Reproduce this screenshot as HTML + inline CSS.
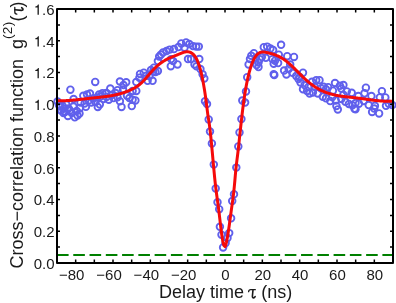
<!DOCTYPE html>
<html><head><meta charset="utf-8"><style>
html,body{margin:0;padding:0;background:#fff;}
svg{display:block;filter:blur(0.35px);}
text{font-family:"Liberation Sans",sans-serif;fill:#1a1a1a;}
</style></head><body>
<svg width="396" height="303" viewBox="0 0 396 303">
<rect width="396" height="303" fill="#fff"/>
<g fill="none" stroke="#6060ec" stroke-width="1.85"><circle cx="57.50" cy="101.50" r="3.3"/><circle cx="58.90" cy="105.00" r="3.3"/><circle cx="60.00" cy="106.50" r="3.3"/><circle cx="61.00" cy="110.40" r="3.3"/><circle cx="62.60" cy="106.00" r="3.3"/><circle cx="63.50" cy="113.00" r="3.3"/><circle cx="64.50" cy="108.50" r="3.3"/><circle cx="65.00" cy="112.00" r="3.3"/><circle cx="66.30" cy="104.50" r="3.3"/><circle cx="67.90" cy="116.00" r="3.3"/><circle cx="68.60" cy="108.50" r="3.3"/><circle cx="70.00" cy="110.50" r="3.3"/><circle cx="70.40" cy="89.70" r="3.3"/><circle cx="71.70" cy="112.90" r="3.3"/><circle cx="73.40" cy="106.60" r="3.3"/><circle cx="73.60" cy="99.00" r="3.3"/><circle cx="74.80" cy="117.30" r="3.3"/><circle cx="76.70" cy="111.00" r="3.3"/><circle cx="77.50" cy="115.50" r="3.3"/><circle cx="79.50" cy="113.50" r="3.3"/><circle cx="79.90" cy="107.90" r="3.3"/><circle cx="80.50" cy="102.50" r="3.3"/><circle cx="83.30" cy="95.80" r="3.3"/><circle cx="84.60" cy="103.50" r="3.3"/><circle cx="85.90" cy="106.80" r="3.3"/><circle cx="87.00" cy="94.50" r="3.3"/><circle cx="88.70" cy="100.50" r="3.3"/><circle cx="90.00" cy="93.50" r="3.3"/><circle cx="91.20" cy="102.40" r="3.3"/><circle cx="93.00" cy="98.50" r="3.3"/><circle cx="95.20" cy="81.90" r="3.3"/><circle cx="95.50" cy="102.00" r="3.3"/><circle cx="97.00" cy="97.50" r="3.3"/><circle cx="97.80" cy="107.00" r="3.3"/><circle cx="99.10" cy="94.50" r="3.3"/><circle cx="99.80" cy="104.40" r="3.3"/><circle cx="100.50" cy="96.50" r="3.3"/><circle cx="102.40" cy="93.20" r="3.3"/><circle cx="103.50" cy="99.00" r="3.3"/><circle cx="105.60" cy="93.40" r="3.3"/><circle cx="106.50" cy="93.00" r="3.3"/><circle cx="106.50" cy="97.00" r="3.3"/><circle cx="108.80" cy="99.70" r="3.3"/><circle cx="110.30" cy="88.60" r="3.3"/><circle cx="111.50" cy="95.00" r="3.3"/><circle cx="113.50" cy="98.10" r="3.3"/><circle cx="115.50" cy="93.00" r="3.3"/><circle cx="117.50" cy="90.20" r="3.3"/><circle cx="117.50" cy="97.30" r="3.3"/><circle cx="119.90" cy="81.50" r="3.3"/><circle cx="119.90" cy="101.30" r="3.3"/><circle cx="121.50" cy="106.90" r="3.3"/><circle cx="123.00" cy="89.40" r="3.3"/><circle cx="123.50" cy="85.00" r="3.3"/><circle cx="126.20" cy="82.30" r="3.3"/><circle cx="127.00" cy="95.70" r="3.3"/><circle cx="129.40" cy="98.10" r="3.3"/><circle cx="131.80" cy="106.10" r="3.3"/><circle cx="132.60" cy="91.00" r="3.3"/><circle cx="132.60" cy="99.70" r="3.3"/><circle cx="135.40" cy="100.40" r="3.3"/><circle cx="136.30" cy="82.10" r="3.3"/><circle cx="136.30" cy="90.90" r="3.3"/><circle cx="139.40" cy="77.70" r="3.3"/><circle cx="140.00" cy="73.90" r="3.3"/><circle cx="143.80" cy="72.70" r="3.3"/><circle cx="146.30" cy="75.80" r="3.3"/><circle cx="147.60" cy="80.80" r="3.3"/><circle cx="149.50" cy="76.00" r="3.3"/><circle cx="151.00" cy="70.00" r="3.3"/><circle cx="152.60" cy="80.80" r="3.3"/><circle cx="153.20" cy="71.40" r="3.3"/><circle cx="153.90" cy="67.70" r="3.3"/><circle cx="155.50" cy="72.00" r="3.3"/><circle cx="157.90" cy="61.10" r="3.3"/><circle cx="157.90" cy="71.00" r="3.3"/><circle cx="159.20" cy="56.50" r="3.3"/><circle cx="161.00" cy="54.60" r="3.3"/><circle cx="163.00" cy="52.50" r="3.3"/><circle cx="166.50" cy="51.00" r="3.3"/><circle cx="169.70" cy="49.60" r="3.3"/><circle cx="170.80" cy="66.20" r="3.3"/><circle cx="171.10" cy="59.10" r="3.3"/><circle cx="173.10" cy="61.10" r="3.3"/><circle cx="174.00" cy="49.00" r="3.3"/><circle cx="177.50" cy="64.40" r="3.3"/><circle cx="178.50" cy="47.00" r="3.3"/><circle cx="181.30" cy="43.40" r="3.3"/><circle cx="184.50" cy="47.70" r="3.3"/><circle cx="186.10" cy="42.40" r="3.3"/><circle cx="188.00" cy="59.00" r="3.3"/><circle cx="189.30" cy="44.00" r="3.3"/><circle cx="191.00" cy="59.00" r="3.3"/><circle cx="193.00" cy="46.10" r="3.3"/><circle cx="194.50" cy="64.40" r="3.3"/><circle cx="196.20" cy="46.60" r="3.3"/><circle cx="196.50" cy="66.30" r="3.3"/><circle cx="198.80" cy="46.60" r="3.3"/><circle cx="199.30" cy="59.00" r="3.3"/><circle cx="200.40" cy="69.00" r="3.3"/><circle cx="202.60" cy="74.30" r="3.3"/><circle cx="204.30" cy="78.40" r="3.3"/><circle cx="205.00" cy="101.30" r="3.3"/><circle cx="207.00" cy="104.00" r="3.3"/><circle cx="208.70" cy="119.40" r="3.3"/><circle cx="210.00" cy="131.50" r="3.3"/><circle cx="211.90" cy="143.40" r="3.3"/><circle cx="213.80" cy="164.60" r="3.3"/><circle cx="215.70" cy="188.40" r="3.3"/><circle cx="217.50" cy="202.30" r="3.3"/><circle cx="219.20" cy="209.20" r="3.3"/><circle cx="219.90" cy="226.80" r="3.3"/><circle cx="221.50" cy="234.70" r="3.3"/><circle cx="223.10" cy="247.40" r="3.3"/><circle cx="225.60" cy="243.00" r="3.3"/><circle cx="227.50" cy="237.90" r="3.3"/><circle cx="229.20" cy="233.10" r="3.3"/><circle cx="231.10" cy="218.30" r="3.3"/><circle cx="232.20" cy="201.00" r="3.3"/><circle cx="234.00" cy="194.30" r="3.3"/><circle cx="236.30" cy="167.60" r="3.3"/><circle cx="238.30" cy="146.40" r="3.3"/><circle cx="239.50" cy="132.40" r="3.3"/><circle cx="241.40" cy="119.10" r="3.3"/><circle cx="242.30" cy="100.60" r="3.3"/><circle cx="245.10" cy="102.50" r="3.3"/><circle cx="246.00" cy="91.40" r="3.3"/><circle cx="247.20" cy="77.20" r="3.3"/><circle cx="248.60" cy="64.40" r="3.3"/><circle cx="250.00" cy="59.10" r="3.3"/><circle cx="251.30" cy="55.80" r="3.3"/><circle cx="253.90" cy="53.20" r="3.3"/><circle cx="255.90" cy="57.80" r="3.3"/><circle cx="256.60" cy="65.00" r="3.3"/><circle cx="258.50" cy="62.40" r="3.3"/><circle cx="258.50" cy="67.00" r="3.3"/><circle cx="259.90" cy="59.10" r="3.3"/><circle cx="261.80" cy="57.10" r="3.3"/><circle cx="263.80" cy="47.20" r="3.3"/><circle cx="265.80" cy="57.80" r="3.3"/><circle cx="267.10" cy="46.60" r="3.3"/><circle cx="270.40" cy="48.50" r="3.3"/><circle cx="272.40" cy="59.10" r="3.3"/><circle cx="273.10" cy="49.90" r="3.3"/><circle cx="273.70" cy="63.70" r="3.3"/><circle cx="273.70" cy="74.30" r="3.3"/><circle cx="274.30" cy="75.10" r="3.3"/><circle cx="275.00" cy="60.70" r="3.3"/><circle cx="278.10" cy="63.00" r="3.3"/><circle cx="278.80" cy="54.70" r="3.3"/><circle cx="281.10" cy="44.80" r="3.3"/><circle cx="284.10" cy="70.60" r="3.3"/><circle cx="286.40" cy="74.40" r="3.3"/><circle cx="287.20" cy="56.20" r="3.3"/><circle cx="288.70" cy="69.10" r="3.3"/><circle cx="290.20" cy="64.50" r="3.3"/><circle cx="292.50" cy="72.80" r="3.3"/><circle cx="294.00" cy="56.90" r="3.3"/><circle cx="296.20" cy="75.90" r="3.3"/><circle cx="298.50" cy="78.90" r="3.3"/><circle cx="299.70" cy="76.90" r="3.3"/><circle cx="300.50" cy="82.60" r="3.3"/><circle cx="303.00" cy="72.70" r="3.3"/><circle cx="303.00" cy="89.20" r="3.3"/><circle cx="304.60" cy="85.10" r="3.3"/><circle cx="307.10" cy="90.90" r="3.3"/><circle cx="308.70" cy="86.80" r="3.3"/><circle cx="309.60" cy="93.40" r="3.3"/><circle cx="312.00" cy="81.80" r="3.3"/><circle cx="312.90" cy="92.50" r="3.3"/><circle cx="314.50" cy="86.80" r="3.3"/><circle cx="316.20" cy="80.20" r="3.3"/><circle cx="317.80" cy="93.40" r="3.3"/><circle cx="319.50" cy="80.20" r="3.3"/><circle cx="321.10" cy="88.40" r="3.3"/><circle cx="322.80" cy="96.70" r="3.3"/><circle cx="323.60" cy="86.80" r="3.3"/><circle cx="326.00" cy="89.20" r="3.3"/><circle cx="326.00" cy="98.30" r="3.3"/><circle cx="328.10" cy="87.20" r="3.3"/><circle cx="330.20" cy="101.10" r="3.3"/><circle cx="332.30" cy="96.90" r="3.3"/><circle cx="332.90" cy="90.70" r="3.3"/><circle cx="335.00" cy="83.00" r="3.3"/><circle cx="335.70" cy="100.40" r="3.3"/><circle cx="336.40" cy="106.00" r="3.3"/><circle cx="337.80" cy="109.40" r="3.3"/><circle cx="339.90" cy="85.80" r="3.3"/><circle cx="341.30" cy="88.60" r="3.3"/><circle cx="341.30" cy="99.00" r="3.3"/><circle cx="343.40" cy="85.10" r="3.3"/><circle cx="343.40" cy="94.80" r="3.3"/><circle cx="345.40" cy="101.80" r="3.3"/><circle cx="346.80" cy="91.40" r="3.3"/><circle cx="348.90" cy="103.90" r="3.3"/><circle cx="351.70" cy="92.80" r="3.3"/><circle cx="352.40" cy="105.30" r="3.3"/><circle cx="354.50" cy="108.70" r="3.3"/><circle cx="355.50" cy="103.00" r="3.3"/><circle cx="355.50" cy="109.30" r="3.3"/><circle cx="358.30" cy="96.10" r="3.3"/><circle cx="358.90" cy="103.70" r="3.3"/><circle cx="363.80" cy="100.90" r="3.3"/><circle cx="364.50" cy="93.30" r="3.3"/><circle cx="365.90" cy="87.70" r="3.3"/><circle cx="368.70" cy="105.10" r="3.3"/><circle cx="371.40" cy="96.10" r="3.3"/><circle cx="372.10" cy="112.00" r="3.3"/><circle cx="374.20" cy="108.60" r="3.3"/><circle cx="374.90" cy="105.80" r="3.3"/><circle cx="379.10" cy="113.40" r="3.3"/><circle cx="379.80" cy="97.40" r="3.3"/><circle cx="381.90" cy="91.20" r="3.3"/><circle cx="385.30" cy="97.40" r="3.3"/><circle cx="386.00" cy="105.80" r="3.3"/><circle cx="388.80" cy="103.70" r="3.3"/><circle cx="392.30" cy="105.10" r="3.3"/></g>
<path d="M57.00,100.73 L57.47,100.74 L57.93,100.75 L58.40,100.76 L58.87,100.77 L59.33,100.77 L59.80,100.78 L60.27,100.78 L60.73,100.77 L61.20,100.77 L61.67,100.77 L62.13,100.76 L62.60,100.75 L63.07,100.74 L63.53,100.73 L64.00,100.71 L64.47,100.70 L64.93,100.68 L65.40,100.66 L65.87,100.64 L66.33,100.61 L66.80,100.59 L67.27,100.56 L67.73,100.54 L68.20,100.51 L68.67,100.48 L69.13,100.45 L69.60,100.41 L70.07,100.38 L70.53,100.35 L71.00,100.31 L71.47,100.27 L71.93,100.23 L72.40,100.19 L72.87,100.15 L73.33,100.11 L73.80,100.07 L74.27,100.02 L74.73,99.98 L75.20,99.93 L75.67,99.89 L76.13,99.84 L76.60,99.79 L77.07,99.75 L77.53,99.70 L78.00,99.65 L78.47,99.60 L78.93,99.55 L79.40,99.50 L79.87,99.44 L80.33,99.39 L80.80,99.34 L81.27,99.29 L81.73,99.23 L82.20,99.18 L82.67,99.13 L83.13,99.07 L83.60,99.02 L84.07,98.96 L84.53,98.91 L85.00,98.86 L85.47,98.80 L85.93,98.75 L86.40,98.69 L86.87,98.64 L87.33,98.59 L87.80,98.53 L88.27,98.48 L88.73,98.43 L89.20,98.37 L89.67,98.32 L90.13,98.27 L90.60,98.22 L91.07,98.17 L91.53,98.11 L92.00,98.06 L92.47,98.01 L92.93,97.97 L93.40,97.92 L93.87,97.87 L94.33,97.82 L94.80,97.77 L95.27,97.72 L95.73,97.67 L96.20,97.62 L96.67,97.58 L97.13,97.53 L97.60,97.48 L98.07,97.43 L98.53,97.38 L99.00,97.33 L99.47,97.28 L99.93,97.23 L100.40,97.18 L100.87,97.13 L101.33,97.07 L101.80,97.02 L102.27,96.97 L102.73,96.91 L103.20,96.85 L103.67,96.80 L104.13,96.74 L104.60,96.68 L105.07,96.62 L105.53,96.56 L106.00,96.50 L106.47,96.43 L106.93,96.37 L107.40,96.30 L107.87,96.23 L108.33,96.16 L108.80,96.09 L109.27,96.02 L109.73,95.94 L110.20,95.87 L110.67,95.79 L111.13,95.71 L111.60,95.63 L112.07,95.54 L112.53,95.45 L113.00,95.37 L113.47,95.27 L113.93,95.18 L114.40,95.09 L114.87,94.99 L115.33,94.89 L115.80,94.79 L116.27,94.68 L116.73,94.57 L117.20,94.46 L117.67,94.35 L118.13,94.23 L118.60,94.12 L119.07,93.99 L119.53,93.87 L120.00,93.74 L120.47,93.61 L120.93,93.48 L121.40,93.34 L121.87,93.20 L122.33,93.06 L122.80,92.91 L123.27,92.76 L123.73,92.60 L124.20,92.45 L124.67,92.29 L125.13,92.12 L125.60,91.95 L126.07,91.78 L126.53,91.61 L127.00,91.43 L127.47,91.24 L127.93,91.05 L128.40,90.86 L128.87,90.67 L129.33,90.47 L129.80,90.26 L130.27,90.05 L130.73,89.84 L131.20,89.62 L131.67,89.40 L132.13,89.17 L132.60,88.94 L133.07,88.70 L133.53,88.46 L134.00,88.21 L134.47,87.95 L134.93,87.68 L135.40,87.41 L135.87,87.13 L136.33,86.83 L136.80,86.53 L137.27,86.22 L137.73,85.90 L138.20,85.56 L138.67,85.22 L139.13,84.86 L139.60,84.49 L140.07,84.10 L140.53,83.71 L141.00,83.29 L141.47,82.87 L141.93,82.43 L142.40,81.97 L142.87,81.50 L143.33,81.02 L143.80,80.53 L144.27,80.03 L144.73,79.51 L145.20,78.99 L145.67,78.46 L146.13,77.93 L146.60,77.39 L147.07,76.85 L147.53,76.30 L148.00,75.75 L148.47,75.21 L148.93,74.66 L149.40,74.11 L149.87,73.56 L150.33,73.02 L150.80,72.49 L151.27,71.95 L151.73,71.43 L152.20,70.91 L152.67,70.40 L153.13,69.90 L153.60,69.41 L154.07,68.93 L154.53,68.46 L155.00,68.00 L155.47,67.55 L155.93,67.10 L156.40,66.67 L156.87,66.25 L157.33,65.84 L157.80,65.43 L158.27,65.04 L158.73,64.65 L159.20,64.28 L159.67,63.91 L160.13,63.55 L160.60,63.20 L161.07,62.86 L161.53,62.53 L162.00,62.20 L162.47,61.89 L162.93,61.58 L163.40,61.28 L163.87,60.99 L164.33,60.71 L164.80,60.43 L165.27,60.17 L165.73,59.91 L166.20,59.65 L166.67,59.41 L167.13,59.17 L167.60,58.93 L168.07,58.70 L168.53,58.48 L169.00,58.26 L169.47,58.05 L169.93,57.84 L170.40,57.63 L170.87,57.43 L171.33,57.23 L171.80,57.04 L172.27,56.84 L172.73,56.65 L173.20,56.46 L173.67,56.28 L174.13,56.09 L174.60,55.90 L175.07,55.72 L175.53,55.54 L176.00,55.35 L176.47,55.17 L176.93,54.98 L177.40,54.80 L177.87,54.61 L178.33,54.42 L178.80,54.23 L179.27,54.04 L179.73,53.84 L180.20,53.65 L180.67,53.46 L181.13,53.27 L181.60,53.08 L182.07,52.90 L182.53,52.73 L183.00,52.57 L183.47,52.42 L183.93,52.27 L184.40,52.15 L184.87,52.04 L185.33,51.94 L185.80,51.87 L186.27,51.81 L186.73,51.77 L187.20,51.76 L187.67,51.77 L188.13,51.81 L188.60,51.87 L189.07,51.97 L189.53,52.09 L190.00,52.25 L190.47,52.44 L190.93,52.66 L191.40,52.92 L191.87,53.22 L192.33,53.56 L192.80,53.94 L193.27,54.36 L193.73,54.84 L194.20,55.37 L194.67,55.96 L195.13,56.61 L195.60,57.34 L196.07,58.13 L196.53,59.00 L197.00,59.95 L197.47,60.99 L197.93,62.12 L198.40,63.34 L198.87,64.66 L199.33,66.08 L199.80,67.61 L200.27,69.25 L200.73,71.01 L201.20,72.89 L201.67,74.89 L202.13,77.02 L202.60,79.28 L203.07,81.68 L203.53,84.23 L204.00,86.92 L204.47,89.76 L204.93,92.76 L205.40,95.92 L205.87,99.27 L206.33,102.82 L206.80,106.55 L207.27,110.32 L207.73,113.92 L208.20,117.15 L208.67,120.11 L209.13,123.10 L209.60,126.40 L210.07,130.14 L210.53,134.28 L211.00,138.74 L211.47,143.47 L211.93,148.39 L212.40,153.44 L212.87,158.56 L213.33,163.68 L213.80,168.73 L214.27,173.64 L214.73,178.36 L215.20,182.80 L215.67,186.92 L216.13,190.69 L216.60,194.22 L217.07,197.59 L217.53,200.91 L218.00,204.28 L218.47,207.78 L218.93,211.49 L219.40,215.37 L219.87,219.33 L220.33,223.30 L220.80,227.20 L221.27,230.94 L221.73,234.45 L222.20,237.64 L222.67,240.43 L223.13,242.75 L223.60,244.51 L224.07,245.64 L224.53,246.05 L225.00,246.61 L225.47,245.59 L225.93,244.14 L226.40,242.32 L226.87,240.16 L227.33,237.70 L227.80,234.99 L228.27,232.05 L228.73,228.94 L229.20,225.68 L229.67,222.32 L230.13,218.90 L230.60,215.46 L231.07,212.03 L231.53,208.66 L232.00,205.37 L232.47,202.07 L232.93,198.65 L233.40,194.97 L233.87,190.93 L234.33,186.38 L234.80,181.25 L235.27,175.83 L235.73,170.69 L236.20,166.23 L236.67,162.31 L237.13,158.64 L237.60,154.96 L238.07,151.04 L238.53,146.86 L239.00,142.54 L239.47,138.17 L239.93,133.82 L240.40,129.50 L240.87,125.24 L241.33,121.06 L241.80,116.97 L242.27,113.00 L242.73,109.17 L243.20,105.49 L243.67,101.99 L244.13,98.68 L244.60,95.55 L245.07,92.59 L245.53,89.80 L246.00,87.15 L246.47,84.65 L246.93,82.29 L247.40,80.05 L247.87,77.93 L248.33,75.93 L248.80,74.02 L249.27,72.22 L249.73,70.51 L250.20,68.90 L250.67,67.39 L251.13,65.96 L251.60,64.62 L252.07,63.36 L252.53,62.19 L253.00,61.10 L253.47,60.08 L253.93,59.14 L254.40,58.27 L254.87,57.47 L255.33,56.74 L255.80,56.07 L256.27,55.46 L256.73,54.91 L257.20,54.42 L257.67,53.98 L258.13,53.60 L258.60,53.26 L259.07,52.97 L259.53,52.72 L260.00,52.51 L260.47,52.34 L260.93,52.21 L261.40,52.11 L261.87,52.04 L262.33,52.00 L262.80,51.98 L263.27,51.99 L263.73,52.02 L264.20,52.06 L264.67,52.12 L265.13,52.19 L265.60,52.28 L266.07,52.36 L266.53,52.46 L267.00,52.56 L267.47,52.66 L267.93,52.76 L268.40,52.87 L268.87,52.98 L269.33,53.09 L269.80,53.21 L270.27,53.33 L270.73,53.46 L271.20,53.59 L271.67,53.73 L272.13,53.87 L272.60,54.01 L273.07,54.16 L273.53,54.32 L274.00,54.48 L274.47,54.64 L274.93,54.81 L275.40,54.99 L275.87,55.18 L276.33,55.37 L276.80,55.56 L277.27,55.76 L277.73,55.97 L278.20,56.19 L278.67,56.41 L279.13,56.64 L279.60,56.88 L280.07,57.13 L280.53,57.38 L281.00,57.64 L281.47,57.91 L281.93,58.18 L282.40,58.47 L282.87,58.76 L283.33,59.06 L283.80,59.37 L284.27,59.69 L284.73,60.02 L285.20,60.36 L285.67,60.71 L286.13,61.06 L286.60,61.43 L287.07,61.80 L287.53,62.18 L288.00,62.57 L288.47,62.96 L288.93,63.37 L289.40,63.77 L289.87,64.19 L290.33,64.61 L290.80,65.04 L291.27,65.47 L291.73,65.90 L292.20,66.34 L292.67,66.79 L293.13,67.24 L293.60,67.69 L294.07,68.15 L294.53,68.61 L295.00,69.07 L295.47,69.53 L295.93,70.00 L296.40,70.46 L296.87,70.93 L297.33,71.40 L297.80,71.87 L298.27,72.34 L298.73,72.81 L299.20,73.28 L299.67,73.75 L300.13,74.21 L300.60,74.68 L301.07,75.15 L301.53,75.61 L302.00,76.07 L302.47,76.52 L302.93,76.98 L303.40,77.43 L303.87,77.88 L304.33,78.32 L304.80,78.76 L305.27,79.19 L305.73,79.62 L306.20,80.04 L306.67,80.46 L307.13,80.87 L307.60,81.27 L308.07,81.67 L308.53,82.06 L309.00,82.45 L309.47,82.83 L309.93,83.20 L310.40,83.57 L310.87,83.93 L311.33,84.28 L311.80,84.63 L312.27,84.97 L312.73,85.30 L313.20,85.63 L313.67,85.96 L314.13,86.27 L314.60,86.58 L315.07,86.89 L315.53,87.19 L316.00,87.48 L316.47,87.77 L316.93,88.05 L317.40,88.33 L317.87,88.60 L318.33,88.86 L318.80,89.12 L319.27,89.38 L319.73,89.62 L320.20,89.87 L320.67,90.10 L321.13,90.34 L321.60,90.56 L322.07,90.78 L322.53,91.00 L323.00,91.21 L323.47,91.41 L323.93,91.61 L324.40,91.81 L324.87,92.00 L325.33,92.18 L325.80,92.36 L326.27,92.54 L326.73,92.71 L327.20,92.87 L327.67,93.03 L328.13,93.19 L328.60,93.34 L329.07,93.49 L329.53,93.64 L330.00,93.78 L330.47,93.91 L330.93,94.04 L331.40,94.17 L331.87,94.30 L332.33,94.42 L332.80,94.54 L333.27,94.65 L333.73,94.76 L334.20,94.87 L334.67,94.97 L335.13,95.07 L335.60,95.17 L336.07,95.27 L336.53,95.36 L337.00,95.45 L337.47,95.54 L337.93,95.62 L338.40,95.70 L338.87,95.78 L339.33,95.86 L339.80,95.94 L340.27,96.01 L340.73,96.08 L341.20,96.15 L341.67,96.22 L342.13,96.28 L342.60,96.35 L343.07,96.41 L343.53,96.47 L344.00,96.53 L344.47,96.59 L344.93,96.65 L345.40,96.70 L345.87,96.76 L346.33,96.81 L346.80,96.86 L347.27,96.92 L347.73,96.97 L348.20,97.02 L348.67,97.07 L349.13,97.12 L349.60,97.17 L350.07,97.22 L350.53,97.27 L351.00,97.32 L351.47,97.37 L351.93,97.42 L352.40,97.47 L352.87,97.52 L353.33,97.57 L353.80,97.62 L354.27,97.67 L354.73,97.73 L355.20,97.78 L355.67,97.83 L356.13,97.89 L356.60,97.94 L357.07,98.00 L357.53,98.06 L358.00,98.12 L358.47,98.18 L358.93,98.24 L359.40,98.30 L359.87,98.36 L360.33,98.42 L360.80,98.49 L361.27,98.55 L361.73,98.62 L362.20,98.68 L362.67,98.75 L363.13,98.81 L363.60,98.88 L364.07,98.94 L364.53,99.01 L365.00,99.07 L365.47,99.14 L365.93,99.21 L366.40,99.27 L366.87,99.34 L367.33,99.40 L367.80,99.47 L368.27,99.53 L368.73,99.60 L369.20,99.66 L369.67,99.73 L370.13,99.79 L370.60,99.85 L371.07,99.92 L371.53,99.98 L372.00,100.04 L372.47,100.10 L372.93,100.16 L373.40,100.22 L373.87,100.27 L374.33,100.33 L374.80,100.39 L375.27,100.44 L375.73,100.49 L376.20,100.55 L376.67,100.60 L377.13,100.65 L377.60,100.69 L378.07,100.74 L378.53,100.79 L379.00,100.83 L379.47,100.87 L379.93,100.91 L380.40,100.95 L380.87,100.99 L381.33,101.03 L381.80,101.06 L382.27,101.09 L382.73,101.12 L383.20,101.15 L383.67,101.18 L384.13,101.20 L384.60,101.22 L385.07,101.24 L385.53,101.26 L386.00,101.27 L386.47,101.29 L386.93,101.30 L387.40,101.30 L387.87,101.31 L388.33,101.31 L388.80,101.31 L389.27,101.31 L389.73,101.30 L390.20,101.29 L390.67,101.28 L391.13,101.27 L391.60,101.25 L392.07,101.23 L392.53,101.21 L393.00,101.18" fill="none" stroke="#f50a0a" stroke-width="3" stroke-linejoin="round"/>
<path d="M57,255H393" stroke="#008000" stroke-width="2" stroke-dasharray="11.6 4.67"/>
<path d="M75.67,263V259.5M75.67,9V12.5M94.33,263V259.5M94.33,9V12.5M113.00,263V259.5M113.00,9V12.5M131.67,263V259.5M131.67,9V12.5M150.33,263V259.5M150.33,9V12.5M169.00,263V259.5M169.00,9V12.5M187.67,263V259.5M187.67,9V12.5M206.33,263V259.5M206.33,9V12.5M225.00,263V259.5M225.00,9V12.5M243.67,263V259.5M243.67,9V12.5M262.33,263V259.5M262.33,9V12.5M281.00,263V259.5M281.00,9V12.5M299.67,263V259.5M299.67,9V12.5M318.33,263V259.5M318.33,9V12.5M337.00,263V259.5M337.00,9V12.5M355.67,263V259.5M355.67,9V12.5M374.33,263V259.5M374.33,9V12.5M57,247.12H60M393,247.12H390M57,231.25H60M393,231.25H390M57,215.38H60M393,215.38H390M57,199.50H60M393,199.50H390M57,183.62H60M393,183.62H390M57,167.75H60M393,167.75H390M57,151.88H60M393,151.88H390M57,136.00H60M393,136.00H390M57,120.12H60M393,120.12H390M57,104.25H60M393,104.25H390M57,88.38H60M393,88.38H390M57,72.50H60M393,72.50H390M57,56.62H60M393,56.62H390M57,40.75H60M393,40.75H390M57,24.88H60M393,24.88H390" stroke="#000" stroke-width="1.5" fill="none"/>
<rect x="57" y="9" width="336" height="254" fill="none" stroke="#000" stroke-width="2" stroke-linejoin="round"/>
<g font-size="15"><text x="33.75" y="268.87">0.0</text><text x="33.75" y="237.12">0.2</text><text x="33.75" y="205.37">0.4</text><text x="33.75" y="173.62">0.6</text><text x="33.75" y="141.87">0.8</text><path d="M515,0H696V1409H570C548,1262 420,1160 215,1140V1010H515Z" transform="translate(33.75,110.12) scale(0.00732,-0.00732)" fill="#1a1a1a"/><text x="42.09" y="110.12">.0</text><path d="M515,0H696V1409H570C548,1262 420,1160 215,1140V1010H515Z" transform="translate(33.75,78.37) scale(0.00732,-0.00732)" fill="#1a1a1a"/><text x="42.09" y="78.37">.2</text><path d="M515,0H696V1409H570C548,1262 420,1160 215,1140V1010H515Z" transform="translate(33.75,46.62) scale(0.00732,-0.00732)" fill="#1a1a1a"/><text x="42.09" y="46.62">.4</text><path d="M515,0H696V1409H570C548,1262 420,1160 215,1140V1010H515Z" transform="translate(33.75,14.87) scale(0.00732,-0.00732)" fill="#1a1a1a"/><text x="42.09" y="14.87">.6</text><text x="76.07" y="280" text-anchor="middle"><tspan>80</tspan></text><text x="67.73" y="280" text-anchor="end">&#8722;</text><text x="113.40" y="280" text-anchor="middle"><tspan>60</tspan></text><text x="105.06" y="280" text-anchor="end">&#8722;</text><text x="150.73" y="280" text-anchor="middle"><tspan>40</tspan></text><text x="142.39" y="280" text-anchor="end">&#8722;</text><text x="188.07" y="280" text-anchor="middle"><tspan>20</tspan></text><text x="179.73" y="280" text-anchor="end">&#8722;</text><text x="225.40" y="280" text-anchor="middle">0</text><text x="262.73" y="280" text-anchor="middle">20</text><text x="300.07" y="280" text-anchor="middle">40</text><text x="337.40" y="280" text-anchor="middle">60</text><text x="374.73" y="280" text-anchor="middle">80</text></g>
<text x="159" y="298" font-size="18">Delay time <tspan fill="transparent">&#964;</tspan> (ns)</text>
<g transform="translate(248.2,298.5)" fill="none" stroke="#1a1a1a" stroke-linecap="round"><path d="M0.4,-6.8Q0.6,-8.8 2.6,-8.8L7.1,-8.8" stroke-width="1.3"/><path d="M4.8,-8.8L4.2,-2.2Q4.2,-0.6 5.4,-0.6Q6.3,-0.6 6.9,-1.9" stroke-width="1.6"/></g>
<text transform="translate(22.8,268.6) rotate(-90)" font-size="18">Cross&#8722;correlation function&#160;&#160;g<tspan font-size="13.5" dy="-10.5" letter-spacing="0.3">(2)</tspan><tspan dy="10.5" letter-spacing="0.5">(<tspan fill="transparent">&#964;</tspan>)</tspan></text>
<g transform="translate(23.6,14.6) rotate(-90)" fill="none" stroke="#1a1a1a" stroke-linecap="round"><path d="M0.4,-6.8Q0.6,-8.8 2.6,-8.8L7.1,-8.8" stroke-width="1.3"/><path d="M4.8,-8.8L4.2,-2.2Q4.2,-0.6 5.4,-0.6Q6.3,-0.6 6.9,-1.9" stroke-width="1.6"/></g>
</svg>
</body></html>
